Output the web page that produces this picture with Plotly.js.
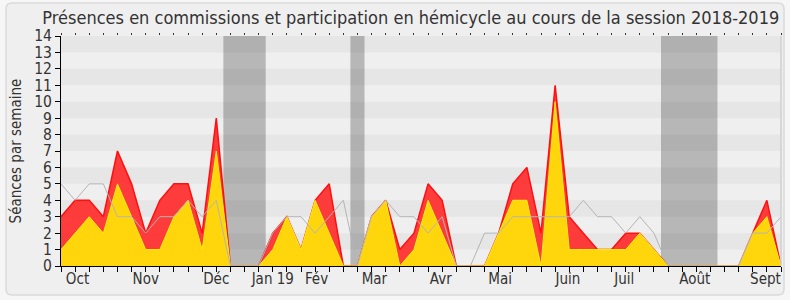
<!DOCTYPE html>
<html>
<head>
<meta charset="utf-8">
<script src="https://cdn.plot.ly/plotly-3.0.1.min.js"></script>
<style>html,body{margin:0;padding:0;background:#f4f4f4;}#chart{width:790px;height:300px;}</style>
</head>
<body>
<div id="chart"></div>
<script>
// Week index 0..51 (session 2018-2019, Oct -> Sept)
const weeks = Array.from({length: 52}, (_, i) => i);
const totalSeances = [3,4,4,3,7,5,2,4,5,5,2,9,0,0,0,2,3,1,4,5,0,0,3,4,1,2,5,4,0,0,0,2,5,6,2,11,3,2,1,1,2,2,1,0,0,0,0,0,0,2,4,0];
const commissionSeances = [1,2,3,2,5,3,1,1,3,4,1,7,0,0,0,1,3,1,4,2,0,0,3,4,0,1,4,2,0,0,0,2,4,4,0,10,1,1,1,1,1,2,1,0,0,0,0,0,0,2,3,0];
const medianeDeputes = [5,4,5,5,3,3,2,3,3,4,3,4,0,0,0,2,3,3,2,3,4,0,3,4,3,3,2,3,0,0,2,2,3,3,3,3,3,4,3,3,2,3,2,0,0,0,0,0,0,2,2,3];
const questionsWeeks = [8, 22];
const questionsValues = [0.9, 1.9];
const vacances = [[11.5, 14.5], [20.5, 21.5], [42.5, 46.5]];
const monthPos = [1.17, 6.0, 11.0, 15.0, 18.1, 22.2, 26.9, 31.1, 35.9, 39.9, 44.9, 49.9];
const monthLabels = ['Oct','Nov','Déc','Jan 19','Fév','Mar','Avr','Mai','Juin','Juil','Août','Sept'];
const yTicks = Array.from({length: 15}, (_, i) => i);

const FONT = 'DejaVu Sans Condensed, DejaVu Sans, Verdana, sans-serif';

const traces = [
  {x: weeks, y: totalSeances, type: 'scatter', mode: 'lines', fill: 'tozeroy',
   fillcolor: 'rgba(255,40,40,0.9)', line: {color: '#ff1010', width: 1.5}, hoverinfo: 'skip'},
  {x: weeks, y: commissionSeances, type: 'scatter', mode: 'lines', fill: 'tozeroy',
   fillcolor: '#ffd60c', line: {color: '#ffee10', width: 1}, hoverinfo: 'skip'},
  {x: weeks, y: medianeDeputes, type: 'scatter', mode: 'lines',
   line: {color: '#b4b4b4', width: 1}, hoverinfo: 'skip'},
  {x: questionsWeeks, y: questionsValues, type: 'bar', width: 0.28,
   marker: {color: '#6b6bff', line: {width: 0}}, hoverinfo: 'skip'},
  {x: [0], y: [0], xaxis: 'x2', type: 'scatter', mode: 'markers', marker: {opacity: 0}, hoverinfo: 'skip'},
  {x: [0], y: [0], xaxis: 'x3', type: 'scatter', mode: 'markers', marker: {opacity: 0}, hoverinfo: 'skip'}
];

const shapes = [];
// outer rounded frame (paper coords)
const px = v => (v - 61) / 720, py = v => (266 - v) / 230;
const x0 = px(6), x1 = px(784), y1 = py(3), y0 = py(295), rx = 6/720, ry = 6/230;
shapes.push({type: 'path', xref: 'paper', yref: 'paper', layer: 'below',
  path: `M ${x0+rx},${y1} L ${x1-rx},${y1} Q ${x1},${y1} ${x1},${y1-ry} L ${x1},${y0+ry} Q ${x1},${y0} ${x1-rx},${y0} L ${x0+rx},${y0} Q ${x0},${y0} ${x0},${y0+ry} L ${x0},${y1-ry} Q ${x0},${y1} ${x0+rx},${y1} Z`,
  fillcolor: '#efefef', line: {color: '#dadada', width: 1.5}});
// horizontal stripes
for (let k = 1; k < 14; k += 2) {
  shapes.push({type: 'rect', xref: 'paper', yref: 'y', x0: 0, x1: 1, y0: k, y1: k + 1,
    fillcolor: '#e6e6e6', line: {width: 0}, layer: 'below'});
}
// vacation bands
vacances.forEach(v => shapes.push({type: 'rect', xref: 'x', yref: 'paper', x0: v[0], x1: v[1], y0: 0, y1: 1,
  fillcolor: 'rgba(0,0,0,0.23)', line: {width: 0}, layer: 'below'}));
// right border
shapes.push({type: 'line', xref: 'paper', yref: 'paper', x0: 1, x1: 1, y0: 0, y1: 1,
  line: {color: '#cfcfcf', width: 1.5}});

const layout = {
  width: 790, height: 300,
  margin: {l: 61, r: 9, t: 36, b: 34},
  paper_bgcolor: '#f6f6f6', plot_bgcolor: '#fafafa',
  showlegend: false,
  font: {family: FONT, color: '#333'},
  title: {text: 'Présences en commissions et participation en hémicycle au cours de la session 2018-2019',
    font: {family: FONT, size: 18, color: '#333'}, xref: 'container', x: 0.52, xanchor: 'center',
    yref: 'container', y: 0.942, yanchor: 'middle'},
  xaxis: {range: [0, 51], tickvals: weeks, ticktext: weeks.map(() => ''), ticks: 'outside', ticklen: 5,
    tickcolor: '#000', showline: true, linecolor: '#000', linewidth: 1, showgrid: false, zeroline: false,
    fixedrange: true},
  xaxis2: {overlaying: 'x', anchor: 'y', side: 'bottom', range: [0, 51], tickvals: monthPos, ticktext: monthLabels,
    ticks: '', showline: false, showgrid: false, zeroline: false, tickfont: {size: 15, color: '#333'},
    ticklabelstandoff: 2},
  xaxis3: {overlaying: 'x', anchor: 'y', side: 'top', range: [0, 51], tickvals: weeks, showticklabels: false,
    ticks: 'outside', ticklen: 2, tickcolor: '#333', showline: false, showgrid: false, zeroline: false},
  yaxis: {range: [0, 14], tickvals: yTicks, ticks: 'outside', ticklen: 5, tickcolor: '#000',
    showline: true, linecolor: '#000', linewidth: 1, showgrid: false, zeroline: false,
    tickfont: {size: 15.5, color: '#333'},
    title: {text: 'Séances par semaine', font: {size: 15, color: '#333'}, standoff: 8}},
  shapes: shapes,
  bargap: 0
};

Plotly.newPlot('chart', traces, layout, {staticPlot: true, displayModeBar: false});
</script>
</body>
</html>
